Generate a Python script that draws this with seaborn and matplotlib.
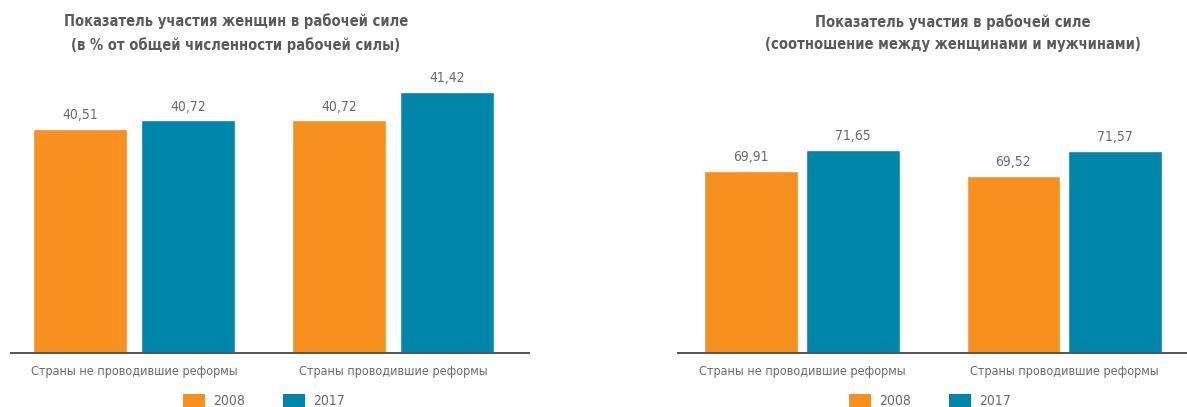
import matplotlib
matplotlib.use("Agg")
import matplotlib.pyplot as plt
import seaborn as sns
import pandas as pd
from matplotlib.patches import Patch

categories = ["Страны не проводившие реформы", "Страны проводившие реформы"]
years = ["2008", "2017"]
left_2008 = [40.51, 40.72]
left_2017 = [40.72, 41.42]
right_2008 = [69.91, 69.52]
right_2017 = [71.65, 71.57]
left_title = "Показатель участия женщин в рабочей силе\n(в % от общей численности рабочей силы)"
right_title = "Показатель участия в рабочей силе\n(соотношение между женщинами и мужчинами)"

ORANGE = "#F7901E"
BLUE = "#0086AB"
TXT = "#6b6b6b"
TITLE = "#5a5a5a"

sns.set_theme(style="white")
FONT = ["DejaVu Sans"]
plt.rcParams["font.family"] = FONT
plt.rcParams["font.stretch"] = "condensed"

fig = plt.figure(figsize=(11.87, 4.07), dpi=100)
W, H = 1187, 407


def make_df(v08, v17):
    rows = []
    for c, a, b in zip(categories, v08, v17):
        rows.append({"cat": c, "year": years[0], "val": a})
        rows.append({"cat": c, "year": years[1], "val": b})
    return pd.DataFrame(rows)


def panel(rect, v08, v17, ylim, xlim, width, gap):
    ax = fig.add_axes(rect)
    df = make_df(v08, v17)
    sns.barplot(data=df, x="cat", y="val", hue="year", order=categories,
                hue_order=years, palette=[ORANGE, BLUE], width=width, gap=gap,
                ax=ax, legend=False, errorbar=None, saturation=1)
    for cont, vals in zip(ax.containers, [v08, v17]):
        ax.bar_label(cont, labels=[f"{v:.2f}".replace(".", ",") for v in vals],
                     padding=5, color=TXT, fontsize=10, fontstretch="condensed")
    ax.set_ylim(*ylim)
    ax.set_xlim(*xlim)
    ax.set_xlabel("")
    ax.set_ylabel("")
    ax.set_yticks([])
    for s in ["left", "right", "top"]:
        ax.spines[s].set_visible(False)
    ax.spines["bottom"].set_color("#555555")
    ax.spines["bottom"].set_linewidth(1.4)
    ax.tick_params(axis="x", length=0, pad=9, labelsize=9, labelcolor=TXT)
    for t in ax.get_xticklabels():
        t.set_fontstretch("condensed")
    ax.patch.set_alpha(0)
    return ax


bottom = (H - 352.7) / H
height = 292.7 / H

ax1 = panel([11 / W, bottom, 518 / W, height], left_2008, left_2017,
            (35, 35 + 292.7 / 40.6), (-0.475, 1.525), 0.834, 0.13)
ax2 = panel([678 / W, bottom, 509 / W, height], right_2008, right_2017,
            (55, 55 + 292.7 / 12.2), (-0.472, 1.467), 0.777, 0.08)

fig.text(236 / W, 1 - 33 / H, left_title, ha="center", va="center",
         fontsize=10.5, fontweight="bold", color=TITLE, linespacing=1.6,
         fontstretch="condensed")
fig.text(953 / W, 1 - 33 / H, right_title, ha="center", va="center",
         fontsize=10.5, fontweight="bold", color=TITLE, linespacing=1.6,
         fontstretch="condensed")

handles = [Patch(facecolor=ORANGE, edgecolor="none"), Patch(facecolor=BLUE, edgecolor="none")]
for cx in [264 / W, 930 / W]:
    fig.legend(handles, years, loc="center", bbox_to_anchor=(cx, 1 - 401 / H),
               ncol=2, frameon=False, labelcolor=TXT,
               handlelength=1.6, handleheight=1.2, columnspacing=2.7, handletextpad=0.6,
               prop={"family": FONT, "size": 10, "stretch": "condensed"})

fig.savefig("out.png", dpi=100)
